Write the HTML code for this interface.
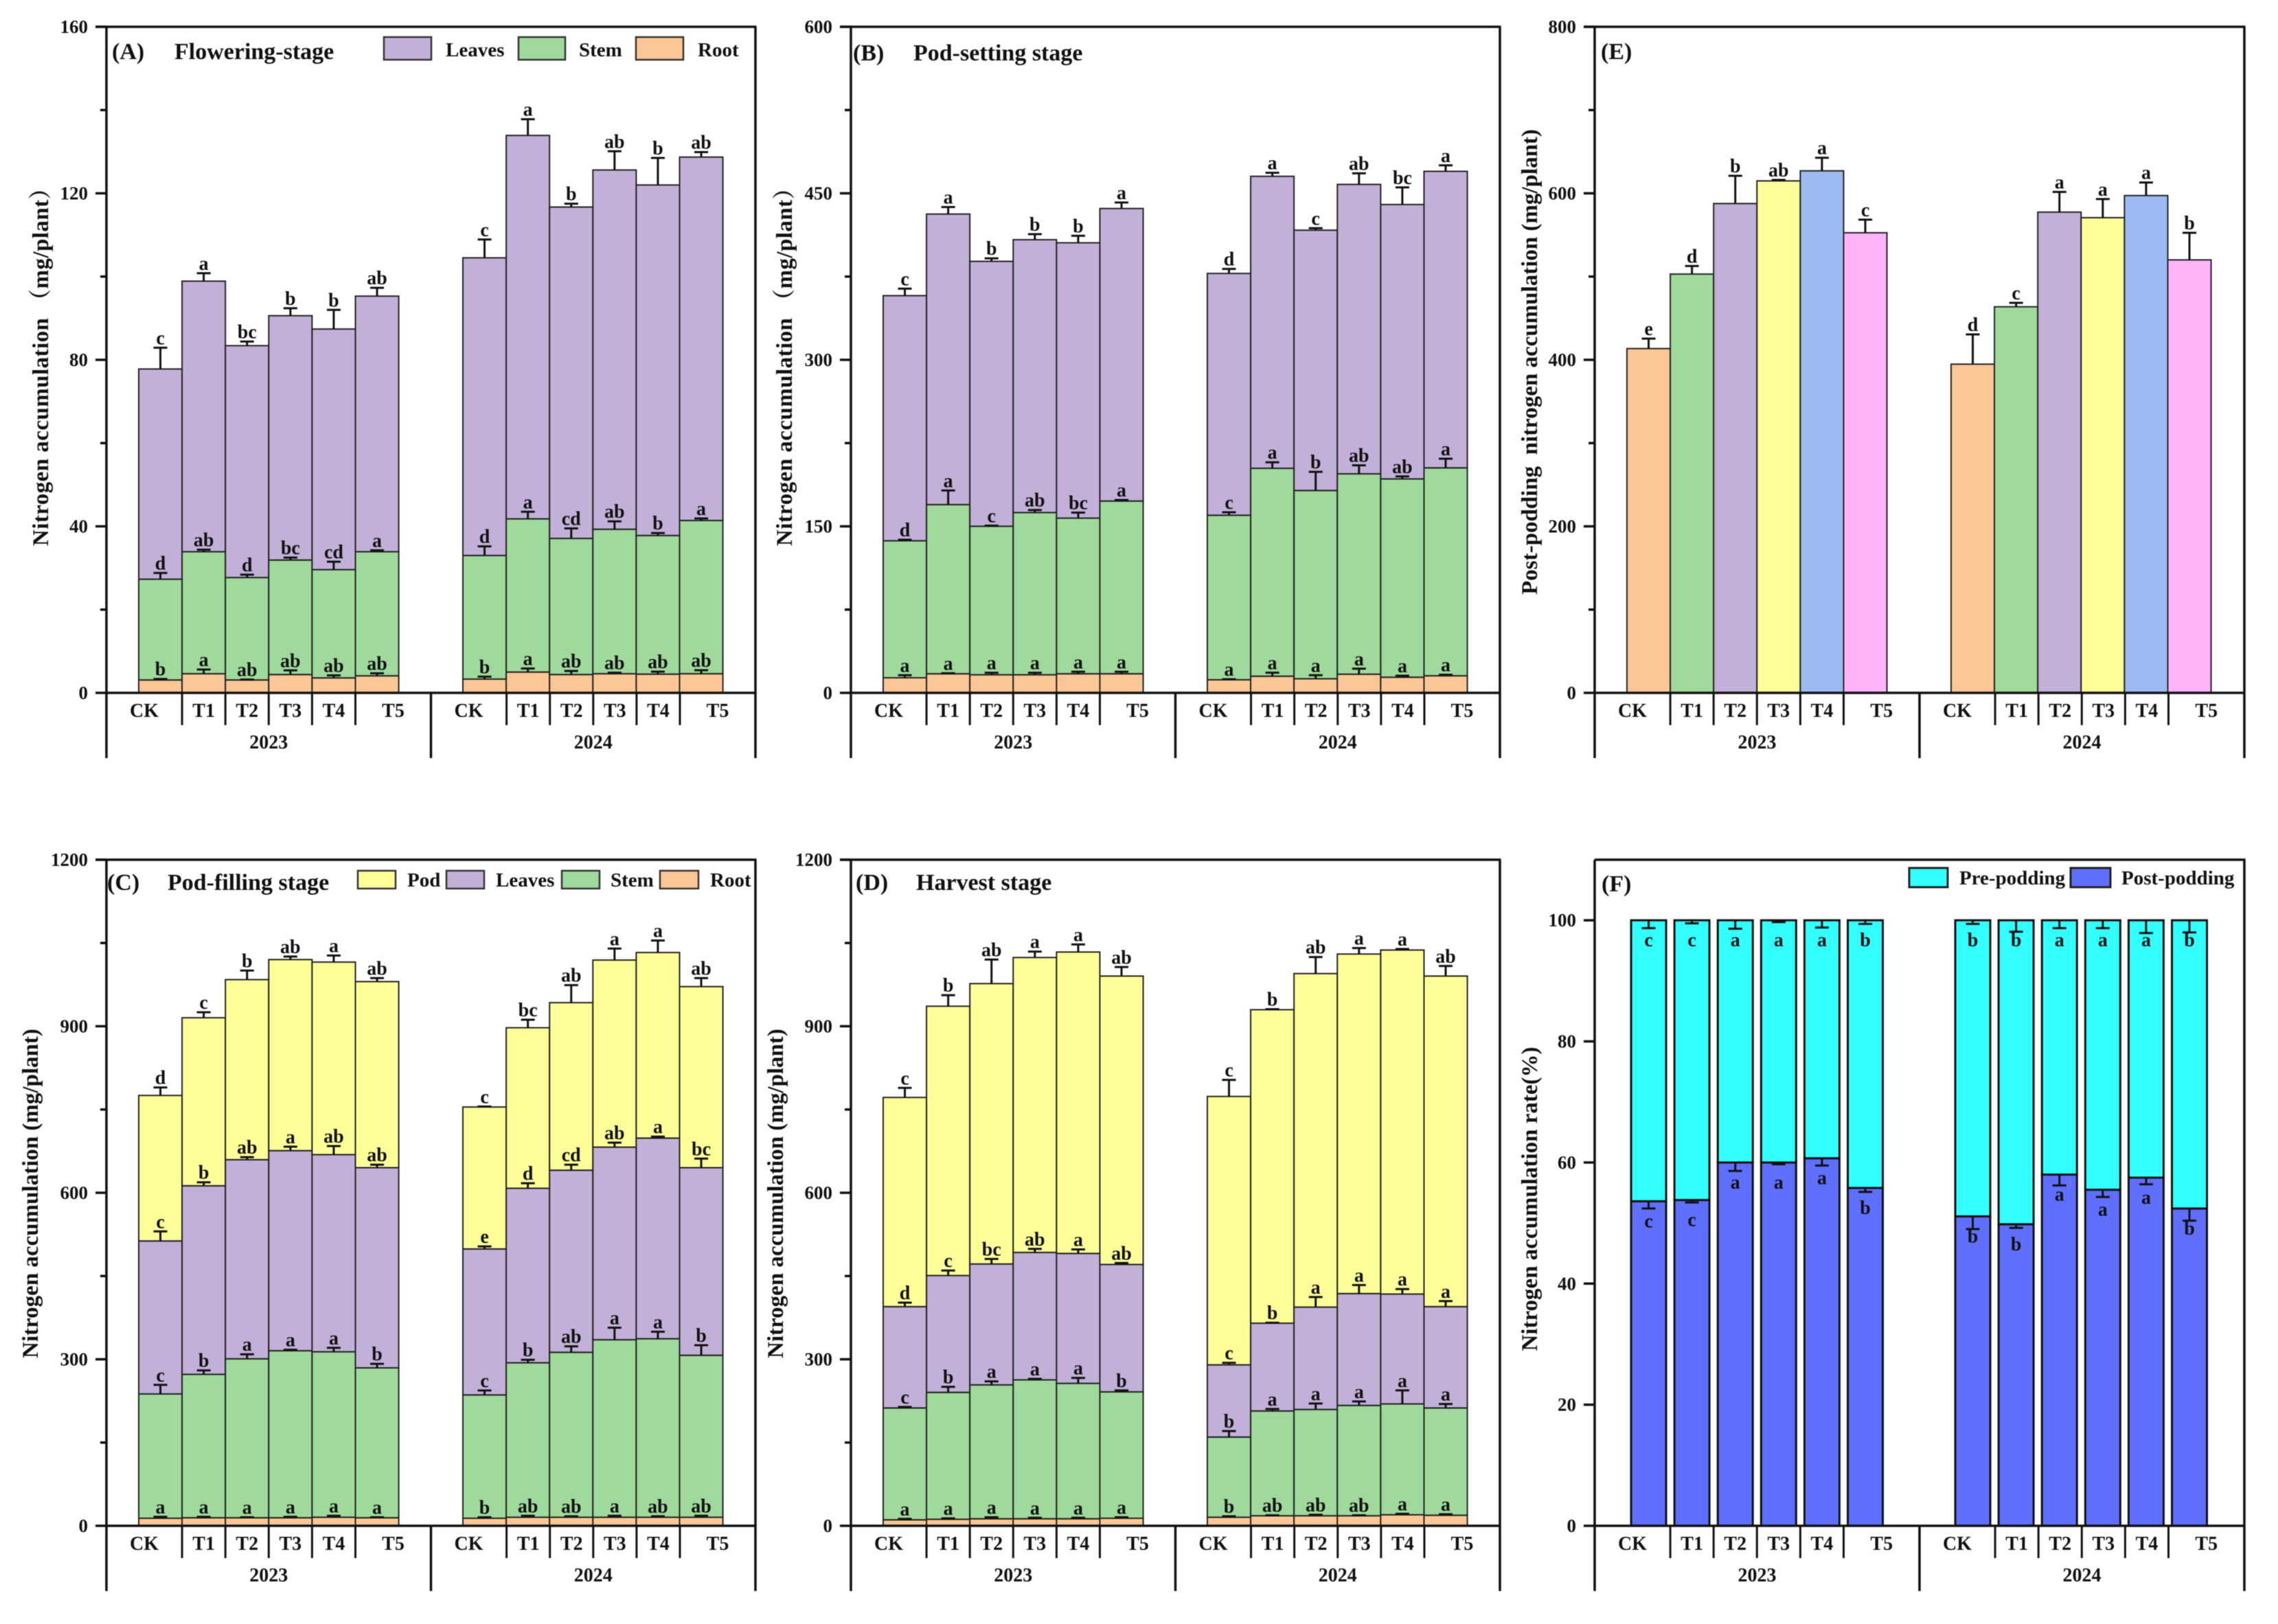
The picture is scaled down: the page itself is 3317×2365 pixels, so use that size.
<!DOCTYPE html>
<html lang="en">
<head>
<meta charset="utf-8">
<title>Nitrogen accumulation charts</title>
<style>
html,body{margin:0;padding:0;background:#fff;width:3317px;height:2365px;overflow:hidden}
svg{display:block;filter:blur(0.6px)}
text{font-family:"Liberation Serif","Noto Serif CJK SC",serif;font-weight:bold;fill:#111}
.title{font-size:34px}
.leg{font-size:29px}
.ytitle{font-size:33px;text-anchor:middle}
.wide{letter-spacing:0.45px}
.swatch{stroke:#333;stroke-width:2.5}
</style>
</head>
<body>
<svg id="figure" xmlns="http://www.w3.org/2000/svg" width="3317" height="2365" viewBox="0 0 3317 2365">
  <rect width="3317" height="2365" fill="#fff"/>

  <g id="panel-a"></g>
  <g id="panel-b"></g>
  <g id="panel-e"></g>
  <g id="panel-c"></g>
  <g id="panel-d"></g>
  <g id="panel-f"></g>

  <g>
    <text class="title" x="163" y="86">(A)</text>
    <text class="title" x="254" y="86">Flowering-stage</text>
    <rect class="swatch" x="559" y="54" width="69" height="33" fill="#C2B0D8"/>
    <text class="leg" x="649" y="82">Leaves</text>
    <rect class="swatch" x="755" y="54" width="68" height="33" fill="#9FD99B"/>
    <text class="leg" x="843" y="82">Stem</text>
    <rect class="swatch" x="926" y="54" width="69" height="33" fill="#FCC796"/>
    <text class="leg" x="1016" y="82">Root</text>
    <text class="ytitle wide" transform="translate(70,526) rotate(-90)">Nitrogen accumulation （mg/plant）</text>
  </g>

  <g>
    <text class="title" x="1242" y="88">(B)</text>
    <text class="title" x="1330" y="88">Pod-setting stage</text>
    <text class="ytitle wide" transform="translate(1153,526) rotate(-90)">Nitrogen accumulation （mg/plant）</text>
  </g>

  <g>
    <text class="title" x="2331" y="86">(E)</text>
    <text class="ytitle" xml:space="preserve" transform="translate(2238,527) rotate(-90)">Post-podding  nitrogen accumulation (mg/plant)</text>
  </g>

  <g>
    <text class="title" x="156" y="1296">(C)</text>
    <text class="title" x="244" y="1296">Pod-filling stage</text>
    <rect class="swatch" x="521" y="1268" width="55" height="26" fill="#FFFF99"/>
    <text class="leg" x="593" y="1291">Pod</text>
    <rect class="swatch" x="650" y="1268" width="55" height="26" fill="#C2B0D8"/>
    <text class="leg" x="722" y="1291">Leaves</text>
    <rect class="swatch" x="818" y="1268" width="55" height="26" fill="#9FD99B"/>
    <text class="leg" x="889" y="1291">Stem</text>
    <rect class="swatch" x="961" y="1268" width="56" height="26" fill="#FCC796"/>
    <text class="leg" x="1034" y="1291">Root</text>
    <text class="ytitle" transform="translate(55,1738) rotate(-90)">Nitrogen accumulation (mg/plant)</text>
  </g>

  <g>
    <text class="title" x="1246" y="1296">(D)</text>
    <text class="title" x="1334" y="1296">Harvest stage</text>
    <text class="ytitle" transform="translate(1140,1738) rotate(-90)">Nitrogen accumulation (mg/plant)</text>
  </g>

  <g>
    <text class="title" x="2332" y="1298">(F)</text>
    <rect x="2780" y="1264" width="56" height="28" fill="#33FFFF" stroke="#222" stroke-width="3"/>
    <text class="leg" x="2853" y="1288">Pre-podding</text>
    <rect x="3015" y="1264" width="58" height="28" fill="#5F6FFF" stroke="#222" stroke-width="3"/>
    <text class="leg" x="3089" y="1288">Post-podding</text>
    <text class="ytitle" transform="translate(2238,1746) rotate(-90)">Nitrogen accumulation rate(%)</text>
  </g>
</svg>

<script>
// ---- shared categories ----
const treatments = ['CK','T1','T2','T3','T4','T5'];
const years = ['2023','2024'];

// ---- tick labels ----
const ticksA = [0,40,80,120,160];
const ticksB = [0,150,300,450,600];
const ticksE = [0,200,400,600,800];
const ticksC = [0,300,600,900,1200];
const ticksD = [0,300,600,900,1200];
const ticksF = [0,20,40,60,80,100];

// ---- Panel A: flowering stage (2023 x6, 2024 x6) ----
const aRoot = [3.1,4.6,3.1,4.4,3.6,4.1, 3.3,5.0,4.4,4.6,4.5,4.6];
const aRootErr = [0.25,1.0,0.1,1.0,0.6,0.6, 0.6,0.85,0.85,0.25,0.6,0.85];
const aRootSig = ['b','a','ab','ab','ab','ab','b','a','ab','ab','ab','ab'];
const aStem = [24.2,29.3,24.6,27.5,26.0,29.8, 29.7,36.8,32.7,34.7,33.3,36.8];
const aStemErr = [1.5,0.5,0.7,0.6,1.9,0.35, 2.2,1.7,2.4,1.9,0.6,0.5];
const aStemSig = ['d','ab','d','bc','cd','a','d','a','cd','ab','b','a'];
const aLeaves = [50.5,65.0,55.7,58.7,57.8,61.4, 71.5,92.1,79.6,86.3,84.2,87.3];
const aLeavesErr = [5.1,1.9,1.0,1.8,4.6,2.0, 4.4,3.9,0.8,4.5,6.5,1.2];
const aLeavesSig = ['c','a','bc','b','b','ab','c','a','b','ab','b','ab'];

// ---- Panel B: pod-setting stage ----
const bRoot = [13.6,17.2,16.3,16.3,17.2,17.2, 11.8,15,12.7,16.8,14.1,15.4];
const bRootErr = [2.3,0.5,1.8,1.8,1.8,1.8, 0.5,3.2,3.2,5,1.4,0.9];
const bRootSig = ['a','a','a','a','a','a','a','a','a','a','a','a'];
const bStem = [123.4,152.4,133.8,146.1,140.2,155.6, 148.2,187.3,169.6,180.5,178.6,187.3];
const bStemErr = [0.9,12.7,0.5,2.3,5,0.9, 2.7,5.4,16.8,7.7,2.3,8.2];
const bStemSig = ['d','a','c','ab','bc','a','c','a','b','ab','ab','a'];
const bLeaves = [220.8,261.7,238.6,245.8,248,263.5, 217.8,263,234.5,260.7,247.2,267.1];
const bLeavesErr = [6.3,6.3,2.7,5,6.3,5.4, 4.1,3.2,1.8,10,15.4,5.4];
const bLeavesSig = ['c','a','b','b','b','a','d','a','c','ab','bc','a'];

// ---- Panel E: post-podding nitrogen accumulation ----
const ePost = [413.5,503,587.7,614.9,627,552.6, 394.8,463.7,577.4,570.7,597.3,520];
const ePostErr = [12,9.7,33.3,1.2,15.7,15.7, 35.7,4.8,24.2,22.4,15.7,32.6];
const ePostSig = ['e','d','b','ab','a','c','d','c','a','a','a','b'];

// ---- Panel C: pod-filling stage ----
const cRoot = [13.6,14.5,14.5,14.5,15.4,14.5, 13.6,15.4,15.4,15.4,15.4,15.4];
const cRootErr = [2.7,1.8,0.9,1.8,2.7,0.9, 1.8,2.7,1.8,2.7,1.8,2.7];
const cRootSig = ['a','a','a','a','a','a','b','ab','ab','a','ab','ab'];
const cStem = [224,258.4,286.4,300.9,298.1,270.1, 222.2,278.3,297.2,319.8,321.6,291.8];
const cStemErr = [16.3,7.2,8.1,1.8,7.2,7.2, 8.1,5.4,10.8,21.7,12.7,18.1];
const cStemSig = ['c','b','a','a','a','b','c','b','ab','a','a','b'];
const cLeaves = [275.6,339.7,358.7,360.5,355.2,360.6, 263,314.4,328,347,361.5,338];
const cLeavesErr = [17.2,6.3,4.5,7.2,15.4,5.4, 4.5,9,9.9,8.1,2.7,16.3];
const cLeavesSig = ['c','b','ab','a','ab','ab','e','d','cd','ab','a','bc'];
const cPod = [262.1,302.7,324.4,344.2,346.9,335.2, 255.7,289.2,301.9,337,334.3,326.2];
const cPodErr = [14.5,9.9,16.3,5.4,11.8,6.3, 0.9,14.5,31.6,20.8,21.7,15.4];
const cPodSig = ['d','c','b','ab','a','ab','c','bc','ab','a','a','ab'];

// ---- Panel D: harvest stage ----
const dRoot = [10.8,11.7,12.7,12.7,12.7,13.6, 15.4,18.1,18.1,18.1,19.9,19];
const dRootErr = [1.8,1.8,2.7,1.8,1.8,1.8, 1.8,0.9,1.8,0.9,1.8,1.8];
const dRootSig = ['a','a','a','a','a','a','b','ab','ab','ab','a','a'];
const dStem = [201.5,228.7,241.2,250.2,243.9,227.7, 144.5,188.8,191.5,198.8,199.7,193.3];
const dStemErr = [1.8,9.9,6.3,1.8,9.9,2.7, 10.8,3.6,10.8,7.2,24.4,7.2];
const dStemSig = ['c','b','a','a','a','b','b','a','a','a','a','a'];
const dLeaves = [182.6,210.5,217.8,229.6,234.1,229.5, 130.1,158.1,184.4,201.5,197.9,182.6];
const dLeavesErr = [7.2,9,9,6.3,7.2,2.7, 3.6,0.9,18.1,15.4,9,9.9];
const dLeavesSig = ['d','c','bc','ab','a','ab','c','b','a','a','a','a'];
const dPod = [376.8,485.2,505.1,531.3,543,519.6, 483.5,564.8,600.9,611.7,619.8,595.5];
const dPodErr = [17.2,19.9,43.4,10.8,13.6,16.3, 29.8,0.9,29.8,10.8,1.8,18.1];
const dPodSig = ['c','b','ab','a','a','ab','c','b','ab','a','a','ab'];

// ---- Panel F: accumulation rate (%) ----
const fPost = [53.6,53.8,60,60,60.7,55.8, 51.1,49.8,58,55.5,57.5,52.4];
const fPostErr = [1.2,0.4,1.4,0.3,1.2,0.66, 2.1,0.6,1.8,1.2,1.1,2];
const fPostSig = ['c','c','a','a','a','b','b','b','a','a','a','b'];
const fPre = [46.4,46.2,40,40,39.3,44.2, 48.9,50.2,42,44.5,42.5,47.6];
const fPreErr = [1.3,0.5,1.4,0.3,1.2,0.6, 0.6,1.9,1.3,1.3,2.1,2];
const fPreSig = ['c','c','a','a','a','b','b','b','a','a','a','b'];

// ---- series colours ----
const ROOT = '#FCC796', STEM = '#9FD99B', LEAVES = '#C2B0D8', POD = '#FFFF99';
const E_COLORS = ['#FCC796','#9FD99B','#C2B0D8','#FFFF99','#9DBBF3','#FFB3F9'];

// ---- panels ----
const panels = [
  {id:'panel-a', left:155, right:1100, top:39, base:1009, max:160, ticks:ticksA, minors:true,
   series:[{v:aRoot,e:aRootErr,s:aRootSig,c:ROOT},{v:aStem,e:aStemErr,s:aStemSig,c:STEM},{v:aLeaves,e:aLeavesErr,s:aLeavesSig,c:LEAVES}]},
  {id:'panel-b', left:1239, right:2184, top:39, base:1009, max:600, ticks:ticksB, minors:true,
   series:[{v:bRoot,e:bRootErr,s:bRootSig,c:ROOT},{v:bStem,e:bStemErr,s:bStemSig,c:STEM},{v:bLeaves,e:bLeavesErr,s:bLeavesSig,c:LEAVES}]},
  {id:'panel-e', left:2322, right:3268, top:39, base:1009, max:800, ticks:ticksE, minors:true,
   series:[{v:ePost,e:ePostErr,s:ePostSig,c:null}]},
  {id:'panel-c', left:155, right:1100, top:1252, base:2222, max:1200, ticks:ticksC, minors:true,
   series:[{v:cRoot,e:cRootErr,s:cRootSig,c:ROOT},{v:cStem,e:cStemErr,s:cStemSig,c:STEM},{v:cLeaves,e:cLeavesErr,s:cLeavesSig,c:LEAVES},{v:cPod,e:cPodErr,s:cPodSig,c:POD}]},
  {id:'panel-d', left:1239, right:2184, top:1252, base:2222, max:1200, ticks:ticksD, minors:true,
   series:[{v:dRoot,e:dRootErr,s:dRootSig,c:ROOT},{v:dStem,e:dStemErr,s:dStemSig,c:STEM},{v:dLeaves,e:dLeavesErr,s:dLeavesSig,c:LEAVES},{v:dPod,e:dPodErr,s:dPodSig,c:POD}]},
  {id:'panel-f', left:2322, right:3268, top:1252, base:2222, max:110, ticks:ticksF, minors:false, rate:true,
   series:[{v:fPost,e:fPostErr,s:fPostSig,c:'#5F6FFF'},{v:fPre,e:fPreErr,s:fPreSig,c:'#33FFFF'}]}
];

const NS = 'http://www.w3.org/2000/svg';
const BAR_STEP = 63.1, GROUP_OFFSET = [47, 519];

function make(parent, tag, attrs, content) {
  const el = document.createElementNS(NS, tag);
  for (const k in attrs) el.setAttribute(k, attrs[k]);
  if (content !== undefined) el.textContent = content;
  parent.appendChild(el);
  return el;
}

function drawLine(g, x1, y1, x2, y2, width, color) {
  return make(g, 'line', {x1:x1, y1:y1, x2:x2, y2:y2, stroke:color || '#111', 'stroke-width':width});
}

function drawPanel(p) {
  const g = document.getElementById(p.id);
  const y = v => p.base - (v / p.max) * (p.base - p.top);
  const barX = i => p.left + GROUP_OFFSET[i < 6 ? 0 : 1] + BAR_STEP * (i % 6);
  const barWidth = p.rate ? 51 : BAR_STEP;
  const inset = (BAR_STEP - barWidth) / 2;

  // stacked bars
  const count = p.series[0].v.length;
  const tops = [];
  for (let i = 0; i < count; i++) {
    let sum = 0;
    tops[i] = [];
    p.series.forEach((s, si) => {
      const lo = sum;
      sum += s.v[i];
      tops[i][si] = sum;
      const rect = make(g, 'rect', {
        x: barX(i) + inset, y: y(sum), width: barWidth, height: y(lo) - y(sum),
        fill: s.c || E_COLORS[i % 6], stroke: p.rate ? '#111' : '#222', 'stroke-width': p.rate ? 3 : 2
      });
      
      
    });
  }

  // error bars and significance letters
  for (let i = 0; i < count; i++) {
    const cx = barX(i) + BAR_STEP / 2;
    p.series.forEach((s, si) => {
      const topY = y(tops[i][si]);
      const dir = p.rate ? 1 : -1;
      const capY = topY + dir * Math.abs(y(0) - y(s.e[i]));
      const eg = make(g, 'g', {});
      
      
      drawLine(eg, cx, topY, cx, capY, 3);
      drawLine(eg, cx - 10, capY, cx + 10, capY, 3);
      const labelY = p.rate ? topY + 38 : capY - 5;
      const t = make(g, 'text', {x: cx, y: labelY, 'text-anchor':'middle', 'font-size':28}, s.s[i]);
      
      
    });
  }

  // frame
  const frame = make(g, 'g', {});
  
  
  const mid = p.left + (p.right - p.left) / 2;
  drawLine(frame, p.rate ? p.left : p.left - 16, p.top, p.right + 1.5, p.top, 3.5);
  drawLine(frame, p.left, p.top, p.left, p.base + 95, 3.5);
  drawLine(frame, p.right, p.top, p.right, p.base + 95, 3.5);
  drawLine(frame, p.left, p.base, p.right, p.base, 3.5);
  drawLine(frame, mid, p.base, mid, p.base + 95, 3.5);

  // y ticks
  p.ticks.forEach((v, i) => {
    const ty = y(v);
    const tick = drawLine(g, p.left - 16, ty, p.left, ty, 3.5);
    
    
    const label = make(g, 'text', {x: p.left - 27, y: ty + 9, 'text-anchor':'end', 'font-size':27}, v);
    
    
    if (p.minors && i < p.ticks.length - 1) {
      const my = y((v + p.ticks[i + 1]) / 2);
      const minor = drawLine(g, p.left - 9, my, p.left, my, 3.5);
      
      
    }
  });

  // x categories and year groups
  years.forEach((yr, gi) => {
    const gx = p.left + (gi === 0 ? 0 : (p.right - p.left) / 2);
    const gw = (p.right - p.left) / 2;
    const edges = [0];
    treatments.forEach((name, k) => { if (k > 0) edges.push(47 + BAR_STEP * k); });
    edges.push(gw);
    treatments.forEach((name, k) => {
      const lab = make(g, 'text', {x: gx + (edges[k] + edges[k + 1]) / 2, y: p.base + 35, 'text-anchor':'middle', 'font-size':28}, name);
      
      
      if (k > 0) {
        const sep = drawLine(g, gx + edges[k], p.base, gx + edges[k], p.base + 47, 3);
        
        
      }
    });
    const yl = make(g, 'text', {x: gx + gw / 2, y: p.base + 81, 'text-anchor':'middle', 'font-size':28}, yr);
    
    
  });
}

panels.forEach(drawPanel);
</script>
</body>
</html>
